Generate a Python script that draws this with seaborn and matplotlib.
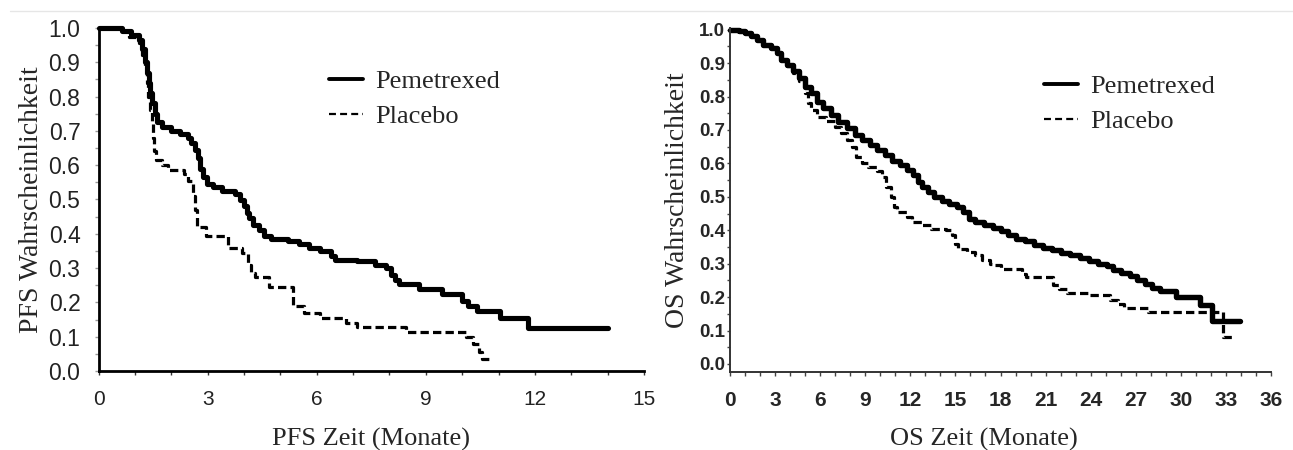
import numpy as np
import pandas as pd
import matplotlib
matplotlib.use("Agg")
import matplotlib.pyplot as plt
from matplotlib.lines import Line2D
from matplotlib.ticker import MultipleLocator, FormatStrFormatter
from matplotlib import font_manager as fm
import seaborn as sns

# PFS-Kurven (Monate, Wahrscheinlichkeit)
pfs_pem_t = [0, 0.65, 0.9, 1.1, 1.2, 1.28, 1.33, 1.38, 1.42, 1.48, 1.55, 1.62, 1.75, 2.0,
             2.25, 2.45, 2.55, 2.65, 2.73, 2.8, 2.88, 2.98, 3.15, 3.4, 3.75, 3.9, 4.0, 4.08,
             4.15, 4.25, 4.4, 4.55, 4.75, 5.2, 5.5, 5.8, 6.1, 6.4, 6.5, 7.1, 7.6, 7.9, 8.05,
             8.15, 8.25, 8.8, 9.45, 10.0, 10.15, 10.4, 11.05, 11.8, 14.0]
pfs_pem_s = [1.0, 0.99, 0.98, 0.965, 0.94, 0.90, 0.87, 0.84, 0.81, 0.78, 0.75, 0.725, 0.71, 0.70,
             0.69, 0.68, 0.665, 0.645, 0.62, 0.59, 0.565, 0.545, 0.535, 0.525, 0.515, 0.50, 0.48, 0.46,
             0.445, 0.425, 0.41, 0.395, 0.385, 0.38, 0.37, 0.36, 0.35, 0.335, 0.325, 0.32, 0.31, 0.30, 0.28,
             0.265, 0.255, 0.24, 0.225, 0.205, 0.19, 0.175, 0.155, 0.125, 0.125]

pfs_pla_t = [0, 0.6, 0.85, 1.1, 1.2, 1.27, 1.32, 1.37, 1.42, 1.47, 1.5, 1.53, 1.58, 1.75, 1.9,
             2.35, 2.45, 2.6, 2.65, 2.72, 2.95, 3.55, 3.95, 4.1, 4.2, 4.3, 4.7, 5.35, 5.65, 6.1,
             6.8, 7.1, 8.45, 10.1, 10.3, 10.45, 10.55, 10.75]
pfs_pla_s = [1.0, 0.99, 0.975, 0.955, 0.92, 0.88, 0.84, 0.80, 0.76, 0.73, 0.68, 0.64, 0.615, 0.60, 0.585,
             0.575, 0.555, 0.51, 0.47, 0.42, 0.395, 0.36, 0.345, 0.31, 0.285, 0.275, 0.245, 0.19, 0.17, 0.155,
             0.14, 0.128, 0.115, 0.10, 0.08, 0.055, 0.035, 0.035]

# OS-Kurven
os_pem_t = [0, 0.6, 1.0, 1.4, 1.8, 2.2, 2.7, 3.1, 3.4, 3.8, 4.2, 4.6, 5.0, 5.4, 5.8, 6.2, 6.7,
            7.2, 7.8, 8.3, 8.8, 9.3, 9.8, 10.3, 10.8, 11.3, 11.8, 12.2, 12.5, 12.8, 13.2, 13.6,
            14.1, 14.6, 15.1, 15.5, 15.9, 16.3, 16.9, 17.5, 18.0, 18.5, 19.0, 19.6, 20.2, 20.8,
            21.4, 22.0, 22.6, 23.3, 23.9, 24.5, 25.1, 25.5, 26.0, 26.6, 27.1, 27.6, 28.1, 28.6,
            29.7, 31.3, 32.1, 33.95]
os_pem_s = [1.0, 0.995, 0.99, 0.98, 0.97, 0.955, 0.945, 0.93, 0.91, 0.895, 0.875, 0.855, 0.83, 0.81,
            0.785, 0.765, 0.745, 0.725, 0.705, 0.685, 0.67, 0.655, 0.64, 0.625, 0.607, 0.595, 0.58,
            0.565, 0.545, 0.53, 0.515, 0.50, 0.488, 0.48, 0.47, 0.455, 0.435, 0.425, 0.415, 0.408,
            0.398, 0.385, 0.375, 0.368, 0.355, 0.348, 0.34, 0.332, 0.325, 0.318, 0.308, 0.30, 0.292,
            0.28, 0.272, 0.262, 0.252, 0.24, 0.228, 0.218, 0.20, 0.175, 0.13, 0.13]

os_pla_t = [0, 0.6, 1.0, 1.4, 1.8, 2.2, 2.7, 3.1, 3.4, 3.8, 4.2, 4.6, 5.0, 5.2, 5.4, 5.8, 6.4,
            7.0, 7.4, 7.8, 8.1, 8.4, 8.8, 9.2, 9.8, 10.1, 10.4, 10.7, 10.9, 11.1, 11.8, 12.1, 12.8,
            13.4, 14.4, 14.8, 15.0, 15.2, 15.8, 16.3, 16.8, 17.3, 17.6, 18.0, 19.4, 19.7, 21.5,
            21.9, 22.4, 23.8, 25.3, 25.8, 26.2, 27.8, 32.8, 33.5]
os_pla_s = [1.0, 0.995, 0.99, 0.98, 0.97, 0.955, 0.945, 0.93, 0.91, 0.89, 0.87, 0.845, 0.81, 0.78,
            0.76, 0.74, 0.727, 0.708, 0.69, 0.67, 0.65, 0.62, 0.60, 0.59, 0.578, 0.56, 0.53, 0.50,
            0.47, 0.455, 0.44, 0.425, 0.415, 0.405, 0.40, 0.385, 0.36, 0.345, 0.335, 0.325, 0.31,
            0.30, 0.295, 0.285, 0.27, 0.26, 0.235, 0.225, 0.212, 0.205, 0.19, 0.178, 0.168, 0.155,
            0.08, 0.08]

labels = ["Pemetrexed", "Placebo"]

sns.set_style("ticks")
plt.rcParams["lines.scale_dashes"] = False
plt.rcParams["font.family"] = ["Liberation Sans", "DejaVu Sans"]

names = {f.name for f in fm.fontManager.ttflist}
narrow = "Liberation Sans Narrow" if "Liberation Sans Narrow" in names else "Liberation Sans"
serif = "Liberation Serif"

fig = plt.figure(figsize=(12.93, 4.5), dpi=100)
fig.patch.set_facecolor("white")

# leichte Scan-Linie oben
fig.add_artist(Line2D([0.008, 1.0], [0.976, 0.976], color="#e6e6e6", lw=1))

ax1 = fig.add_axes([98.5 / 1293, 1 - 371 / 450, 545.5 / 1293, 343 / 450])
ax2 = fig.add_axes([730 / 1293, 1 - 372 / 450, 541 / 1293, 344 / 450])


def draw_km(ax, t, s, dashed, lw):
    d = pd.DataFrame({"Monate": t, "Wahrscheinlichkeit": s})
    ls = (0, (6, 3)) if dashed else "-"
    sns.lineplot(data=d, x="Monate", y="Wahrscheinlichkeit", ax=ax, color="black",
                 linewidth=lw, linestyle=ls, drawstyle="steps-post", estimator=None,
                 sort=False, legend=False, clip_on=False)


# linkes Panel: PFS
draw_km(ax1, pfs_pla_t, pfs_pla_s, True, 2.3)
draw_km(ax1, pfs_pem_t, pfs_pem_s, False, 3.7)
ax1.set_xlim(0, 15)
ax1.set_ylim(0, 1.0)
ax1.xaxis.set_major_locator(MultipleLocator(3))
ax1.xaxis.set_minor_locator(MultipleLocator(1))
ax1.yaxis.set_major_locator(MultipleLocator(0.1))
ax1.yaxis.set_minor_locator(MultipleLocator(0.05))
ax1.yaxis.set_major_formatter(FormatStrFormatter("%.1f"))
for sp in ["top", "right"]:
    ax1.spines[sp].set_visible(False)
for sp in ["left", "bottom"]:
    ax1.spines[sp].set_linewidth(2.0)
    ax1.spines[sp].set_color("black")
ax1.tick_params(axis="x", which="both", length=3, width=1, color="#333333", pad=11,
                labelsize=15)
ax1.tick_params(axis="y", which="both", length=3, width=1, color="#999999", pad=10,
                labelsize=16.5)
for lab in ax1.get_xticklabels() + ax1.get_yticklabels():
    lab.set_color("#222222")
ax1.set_xlabel("PFS Zeit (Monate)", fontfamily=serif, fontsize=19)
ax1.set_ylabel("PFS Wahrscheinlichkeit", fontfamily=serif, fontsize=20)
ax1.xaxis.set_label_coords(0.5, -0.165)
ax1.yaxis.set_label_coords(-0.1, 0.5)

# rechtes Panel: OS
draw_km(ax2, os_pla_t, os_pla_s, True, 2.3)
draw_km(ax2, os_pem_t, os_pem_s, False, 3.9)
ax2.set_xlim(0, 36)
ax2.set_ylim(-0.024, 1.005)
ax2.xaxis.set_major_locator(MultipleLocator(3))
ax2.xaxis.set_minor_locator(MultipleLocator(1))
ax2.yaxis.set_minor_locator(MultipleLocator(0.05))
ax2.yaxis.set_major_formatter(FormatStrFormatter("%.1f"))
ax2.set_yticks(np.arange(0, 1.01, 0.1))
for sp in ["top", "right"]:
    ax2.spines[sp].set_visible(False)
for sp in ["left", "bottom"]:
    ax2.spines[sp].set_linewidth(1.4)
    ax2.spines[sp].set_color("#333333")
ax2.tick_params(axis="x", which="both", length=3, width=1, color="#444444", pad=11)
ax2.tick_params(axis="y", which="both", length=2.5, width=1, color="#444444", pad=1)
for lab in ax2.get_xticklabels():
    lab.set_fontfamily(narrow)
    lab.set_fontweight("bold")
    lab.set_fontsize(15)
for lab in ax2.get_yticklabels():
    lab.set_fontfamily(narrow)
    lab.set_fontweight("bold")
    lab.set_fontsize(13.5)
ax2.set_xlabel("OS Zeit (Monate)", fontfamily=serif, fontsize=19)
ax2.set_ylabel("OS Wahrscheinlichkeit", fontfamily=serif, fontsize=20)
ax2.xaxis.set_label_coords(0.47, -0.163)
ax2.yaxis.set_label_coords(-0.074, 0.5)

# Legenden (Anker in Bildpixeln, von oben links)
for ax, (px, py) in [(ax1, (329, 70)), (ax2, (1044, 75))]:
    handles = [Line2D([], [], color="black", lw=2.8),
               Line2D([], [], color="black", lw=1.6, linestyle=(0, (5, 3)))]
    ax.legend(handles, labels, loc="upper left", bbox_to_anchor=(px / 1293, 1 - py / 450),
              bbox_transform=fig.transFigure, frameon=False, borderaxespad=0, borderpad=0,
              prop={"family": serif, "size": 19}, handlelength=1.3,
              handletextpad=0.45, labelspacing=0.42)

fig.savefig("out.png", dpi=100, facecolor="white")
